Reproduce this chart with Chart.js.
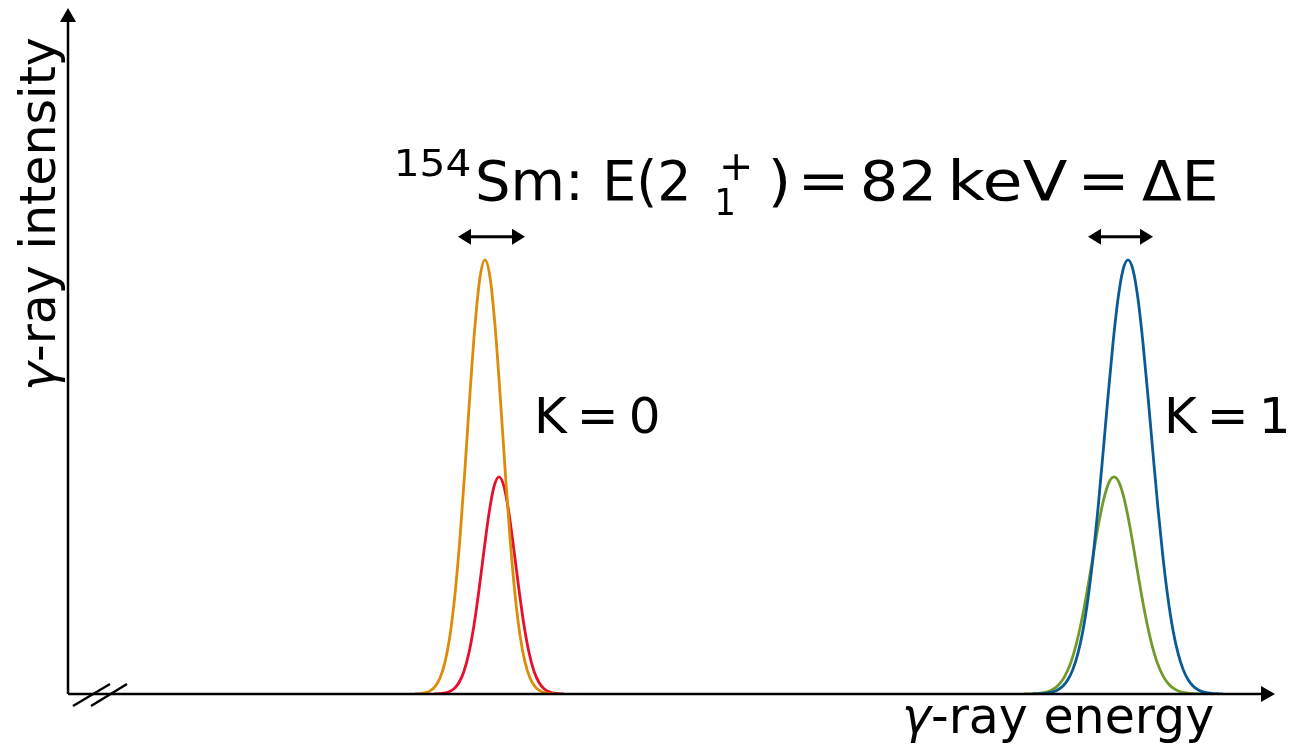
<!DOCTYPE html>
<html>
<head>
<meta charset="utf-8">
<script src="https://cdn.jsdelivr.net/npm/chart.js@4.4.1/dist/chart.umd.min.js"></script>
<style>
  html, body { margin: 0; padding: 0; background: #fff; }
  #c { display: block; }
</style>
</head>
<body>
<canvas id="c" width="1306" height="750"></canvas>
<script>
// energy in arbitrary units, intensity normalised to the tall peaks
const orangeX = [347,352,357,362,367,372,377,382,387,392,397,402,407,412,417,422,427,432,437,442,447,452,457,462,467,472,477,482,487];
const orangeY = [0.0003,0.001,0.0028,0.0072,0.0169,0.0367,0.0734,0.135,0.230,0.360,0.520,0.693,0.849,0.960,1.0,0.960,0.849,0.693,0.520,0.360,0.230,0.135,0.0734,0.0367,0.0169,0.0072,0.0028,0.001,0.0003];

const redX = [366,371,376,381,386,391,396,401,406,411,416,421,426,431,436,441,446,451,456,461,466,471,476,481,486,491,496];
const redY = [0.0002,0.0007,0.0019,0.0051,0.0122,0.0265,0.0525,0.0955,0.1585,0.240,0.3305,0.416,0.4775,0.5,0.4775,0.416,0.3305,0.240,0.1585,0.0955,0.0525,0.0265,0.0122,0.0051,0.0019,0.0007,0.0002];

const blueX = [965,970,975,980,985,990,995,1000,1005,1010,1015,1020,1025,1030,1035,1040,1045,1050,1055,1060,1065,1070,1075,1080,1085,1090,1095,1100,1105,1110,1115,1120,1125,1130,1135,1140,1145,1150,1155];
const blueY = [0.0002,0.0005,0.0011,0.0024,0.0049,0.0097,0.0184,0.0333,0.0573,0.0941,0.147,0.220,0.314,0.427,0.554,0.685,0.808,0.910,0.977,1.0,0.977,0.910,0.808,0.685,0.554,0.427,0.314,0.220,0.147,0.0941,0.0573,0.0333,0.0184,0.0097,0.0049,0.0024,0.0011,0.0005,0.0002];

const greenX = [956,961,966,971,976,981,986,991,996,1001,1006,1011,1016,1021,1026,1031,1036,1041,1046,1051,1056,1061,1066,1071,1076,1081,1086,1091,1096,1101,1106,1111,1116,1121,1126,1131,1136];
const greenY = [0.0001,0.0003,0.0007,0.0015,0.0032,0.0064,0.0122,0.022,0.0378,0.0615,0.0955,0.141,0.1975,0.262,0.331,0.3965,0.451,0.4875,0.5,0.4875,0.451,0.3965,0.331,0.262,0.1975,0.141,0.0955,0.0615,0.0378,0.022,0.0122,0.0064,0.0032,0.0015,0.0007,0.0003,0.0001];

const kLabels = ['K\u2009=\u20090', 'K\u2009=\u20091'];

function pts(xs, ys) {
  return xs.map((x, i) => ({ x: x, y: ys[i] }));
}

function line(label, xs, ys, color) {
  return {
    label: label,
    data: pts(xs, ys),
    borderColor: color,
    borderWidth: 2.8,
    pointRadius: 0,
    fill: false,
    cubicInterpolationMode: 'monotone'
  };
}

const FONT = '"DejaVu Sans", sans-serif';

function arrowHead(ctx, x, y, dir, len, half) {
  ctx.beginPath();
  if (dir === 'r') { ctx.moveTo(x, y); ctx.lineTo(x - len, y - half); ctx.lineTo(x - len, y + half); }
  if (dir === 'l') { ctx.moveTo(x, y); ctx.lineTo(x + len, y - half); ctx.lineTo(x + len, y + half); }
  if (dir === 'u') { ctx.moveTo(x, y); ctx.lineTo(x - half, y + len); ctx.lineTo(x + half, y + len); }
  ctx.closePath();
  ctx.fill();
}

function drawRuns(ctx, x, runs) {
  runs.forEach(r => {
    ctx.font = r.font;
    ctx.fillText(r.t, x, r.y);
    x += ctx.measureText(r.t).width;
  });
}

// put a piece of text so that its ink runs from inkLeft over width w
function inkText(ctx, t, font, inkLeft, w, y) {
  ctx.font = font;
  const m = ctx.measureText(t);
  const inkW = m.actualBoundingBoxLeft + m.actualBoundingBoxRight;
  ctx.save();
  ctx.translate(inkLeft, y);
  ctx.scale(w / inkW, 1);
  ctx.fillText(t, m.actualBoundingBoxLeft, 0);
  ctx.restore();
}

const overlay = {
  id: 'overlay',
  afterDatasetsDraw(chart) {
    const ctx = chart.ctx;
    const xs = chart.scales.x, ys = chart.scales.y;
    const area = chart.chartArea;
    const x0 = xs.getPixelForValue(0), y0 = ys.getPixelForValue(0);
    ctx.save();
    ctx.strokeStyle = '#000';
    ctx.fillStyle = '#000';
    ctx.lineWidth = 2.5;
    // axes
    ctx.beginPath();
    ctx.moveTo(x0, y0);
    ctx.lineTo(area.right - 10, y0);
    ctx.moveTo(x0, y0);
    ctx.lineTo(x0, area.top + 10);
    ctx.stroke();
    arrowHead(ctx, area.right, y0, 'r', 14, 8);
    arrowHead(ctx, x0, area.top, 'u', 14, 8);
    // axis break
    ctx.beginPath();
    ctx.moveTo(x0 + 5, y0 + 12); ctx.lineTo(x0 + 42, y0 - 10);
    ctx.moveTo(x0 + 23, y0 + 12); ctx.lineTo(x0 + 59, y0 - 10);
    ctx.stroke();
    // double arrows of width dE
    const ay = ys.getPixelForValue(1.053);
    [[390, 457], [1020, 1085]].forEach(s => {
      const a = xs.getPixelForValue(s[0]), b = xs.getPixelForValue(s[1]);
      ctx.lineWidth = 3;
      ctx.beginPath();
      ctx.moveTo(a + 6, ay); ctx.lineTo(b - 6, ay);
      ctx.stroke();
      arrowHead(ctx, a, ay, 'l', 13, 8);
      arrowHead(ctx, b, ay, 'r', 13, 8);
    });
    // title
    ctx.textBaseline = 'alphabetic';
    ctx.textAlign = 'left';
    const big = '56px ' + FONT, small = '38px ' + FONT;
    inkText(ctx, '154', small, 398, 72, 176);
    inkText(ctx, 'Sm:', big, 478, 100, 200);
    inkText(ctx, 'E(2', big, 607, 80, 200);
    inkText(ctx, '+', '41px ' + FONT, 723, 27, 180);
    inkText(ctx, '1', small, 718, 15, 215);
    inkText(ctx, ')', big, 772, 15, 200);
    inkText(ctx, '=', big, 803, 40, 200);
    inkText(ctx, '82', big, 863, 69, 200);
    inkText(ctx, 'keV', big, 953, 114, 200);
    inkText(ctx, '=', big, 1083, 40, 200);
    inkText(ctx, '\u0394E', big, 1142, 73, 200);
    // K labels
    ctx.font = '50px ' + FONT;
    ctx.fillText(kLabels[0], 534, 433);
    ctx.fillText(kLabels[1], 1164, 433);
    // axis titles
    const lab = '49px ' + FONT, labI = 'italic 49px ' + FONT;
    drawRuns(ctx, 902, [
      { t: '\u03b3', font: labI, y: 733 },
      { t: '-ray energy', font: lab, y: 733 }
    ]);
    ctx.save();
    ctx.translate(55, 391);
    ctx.rotate(-Math.PI / 2);
    drawRuns(ctx, 0, [
      { t: '\u03b3', font: labI, y: 0 },
      { t: '-ray intensity', font: lab, y: 0 }
    ]);
    ctx.restore();
    ctx.restore();
  }
};

new Chart(document.getElementById('c').getContext('2d'), {
  type: 'line',
  data: {
    datasets: [
      line('K=0, strong', orangeX, orangeY, '#dc8c06'),
      line('K=0, weak', redX, redY, '#e60f2d'),
      line('K=1, strong', blueX, blueY, '#0a5a96'),
      line('K=1, weak', greenX, greenY, '#729a2a')
    ]
  },
  options: {
    responsive: false,
    animation: false,
    layout: { padding: { left: 68, right: 31, top: 8, bottom: 56 } },
    plugins: { legend: { display: false }, tooltip: { enabled: false } },
    scales: {
      x: { type: 'linear', min: 0, max: 1207, display: false },
      y: { type: 'linear', min: 0, max: 1.58, display: false }
    }
  },
  plugins: [overlay]
});
</script>
</body>
</html>
